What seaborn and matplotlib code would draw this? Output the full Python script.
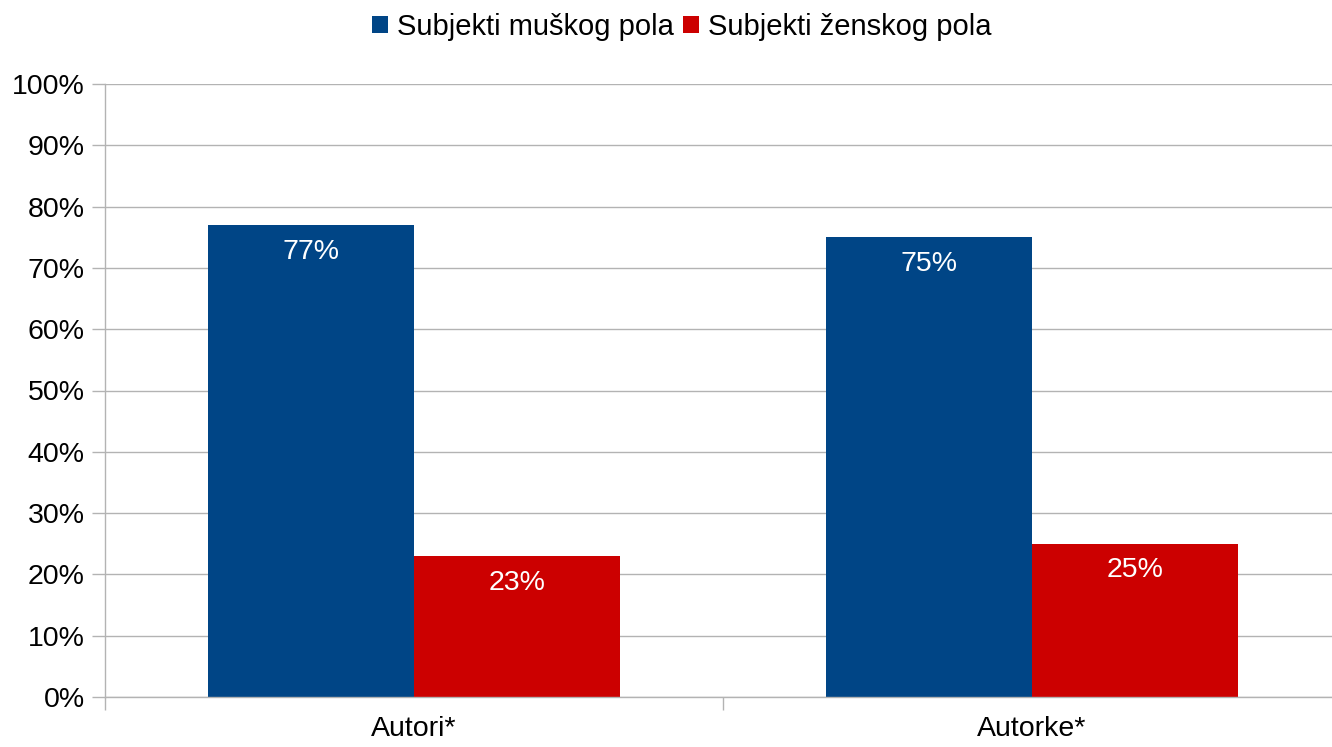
import pandas as pd
import matplotlib.pyplot as plt
import seaborn as sns
from matplotlib.ticker import FixedLocator, PercentFormatter

# values
categories = ['Autori*', 'Autorke*']
series_names = ['Subjekti muškog pola', 'Subjekti ženskog pola']
male_values = [77, 75]
female_values = [23, 25]
colors = ['#004586', '#cc0000']

df = pd.DataFrame({
    'kategorija': categories * 2,
    'pol': [series_names[0]] * 2 + [series_names[1]] * 2,
    'udeo': male_values + female_values,
})

sns.set_theme(style='white')
plt.rcParams['font.family'] = ['Liberation Sans', 'DejaVu Sans']
plt.rcParams['text.color'] = 'black'
grid_gray = '#b3b3b3'
fs = 20.5

fig = plt.figure(figsize=(13.32, 7.47), dpi=100)
# plot area runs past the right edge of the picture, as in the reference
ax = fig.add_axes([105 / 1332, 1 - 697 / 747, 1236 / 1332, 613 / 747])

sns.barplot(data=df, x='kategorija', y='udeo', hue='pol', palette=colors,
            width=0.668, gap=0, saturation=1, linewidth=0, ax=ax, legend=True)

for container in ax.containers:
    ax.bar_label(container, labels=[f'{v:.0f}%' for v in container.datavalues],
                 padding=-28.5, color='white', fontsize=fs)

ax.set_ylim(0, 100)
ax.set_xlim(-0.5, len(categories) - 0.5)
ax.set_yticks(range(0, 101, 10))
ax.yaxis.set_major_formatter(PercentFormatter(decimals=0))
ax.yaxis.grid(True, color=grid_gray, linewidth=1)
ax.set_axisbelow(True)
ax.set_xlabel('')
ax.set_ylabel('')

ax.tick_params(axis='y', left=True, length=9.5, width=1, color=grid_gray,
               labelsize=fs, labelcolor='black', pad=5)
ax.tick_params(axis='x', which='major', bottom=False, labelsize=fs,
               labelcolor='black', pad=8)
ax.xaxis.set_minor_locator(FixedLocator([-0.5, 0.5, 1.5]))
ax.tick_params(axis='x', which='minor', bottom=True, length=9.5, width=1,
               color=grid_gray)

for side in ['top', 'right']:
    ax.spines[side].set_visible(False)
for side in ['left', 'bottom']:
    ax.spines[side].set_color(grid_gray)
    ax.spines[side].set_linewidth(1)

handles, labels = ax.get_legend_handles_labels()
ax.get_legend().remove()
fig.legend(handles, labels, loc='center', bbox_to_anchor=(0.5115, 0.964),
           ncol=2, frameon=False, fontsize=21, handlelength=0.55,
           handleheight=0.55, handletextpad=0.31, columnspacing=0.31,
           labelcolor='black')

fig.savefig('out.png', dpi=100)
